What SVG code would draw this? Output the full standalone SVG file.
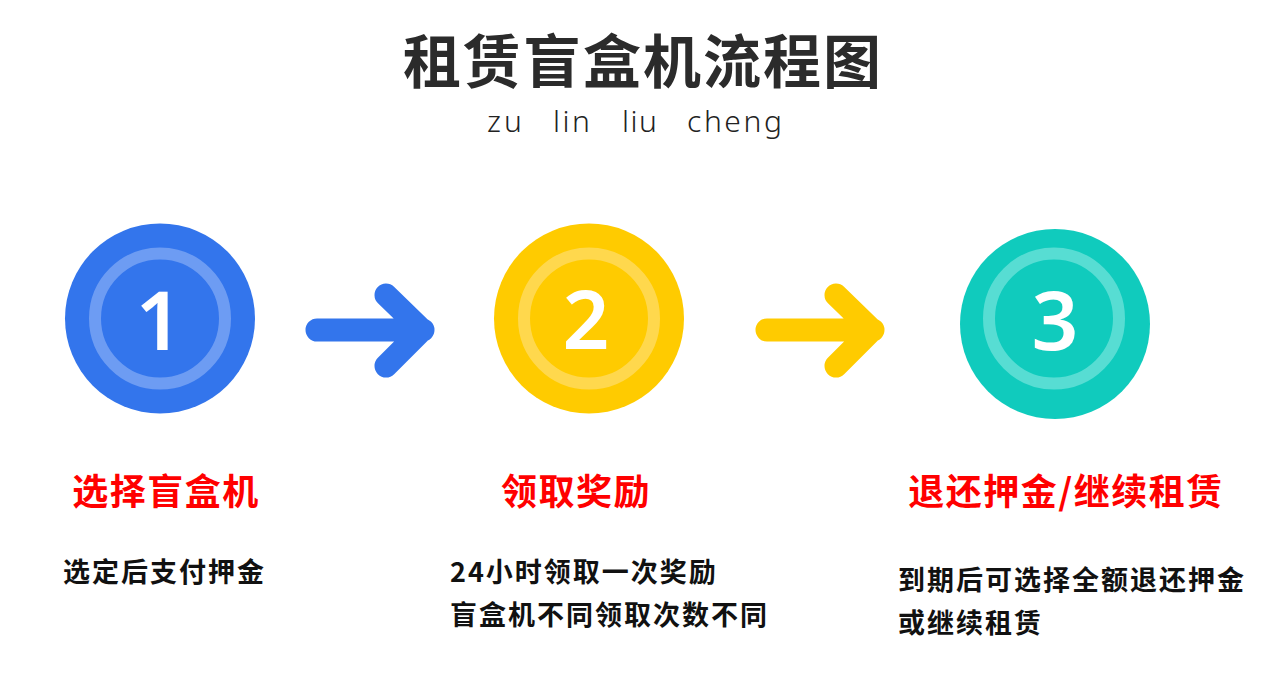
<svg xmlns="http://www.w3.org/2000/svg" width="1263" height="694" viewBox="0 0 1263 694">
<style>
.title{font-family:"Noto Sans CJK SC","Noto Sans",sans-serif;font-weight:700;font-size:58px;fill:#2b2b2b;letter-spacing:2px}
.sub{font-family:"Noto Sans","Open Sans",sans-serif;font-weight:300;font-size:30px;fill:#222}
.digit{font-family:"Noto Sans","Open Sans",sans-serif;font-weight:600;font-size:82px;fill:#fff;text-anchor:middle}
.lbl{font-family:"Noto Sans CJK SC",sans-serif;font-weight:700;font-size:36px;fill:#ff0000;letter-spacing:1.5px;text-anchor:middle}
.desc{font-family:"Noto Sans CJK SC",sans-serif;font-weight:700;font-size:27px;fill:#111;letter-spacing:2px}
.arrow{fill:none;stroke-width:23;stroke-linecap:round;stroke-linejoin:round}
</style>
<rect width="1263" height="694" fill="#fff"/>
<g id="title">
<text class="title" x="643" y="83" text-anchor="middle">租赁盲盒机流程图</text>
<text class="sub" y="132"><tspan x="487" textLength="35">zu</tspan><tspan x="553" textLength="37">lin</tspan><tspan x="622" textLength="35">liu</tspan><tspan x="687" textLength="95">cheng</tspan></text>
</g>
<g id="step1">
<circle cx="160" cy="318.5" r="95" fill="#3375ec"/>
<circle cx="160" cy="318.5" r="65" fill="none" stroke="#6d9cf3" stroke-width="12"/>
<text class="digit" x="159" y="350">1</text>
<text class="lbl" x="166" y="505">选择盲盒机</text>
<text class="desc" x="63" y="582">选定后支付押金</text>
</g>
<g id="step2">
<circle cx="589" cy="318.5" r="95" fill="#ffcb00"/>
<circle cx="589" cy="318.5" r="65" fill="none" stroke="#ffd84d" stroke-width="12"/>
<text class="digit" x="586" y="349">2</text>
<text class="lbl" x="576" y="505">领取奖励</text>
<text class="desc" x="450" y="582">24小时领取一次奖励</text>
<text class="desc" x="450" y="625">盲盒机不同领取次数不同</text>
</g>
<g id="step3">
<circle cx="1055" cy="324" r="95" fill="#10cbbd"/>
<circle cx="1054" cy="318.5" r="65" fill="none" stroke="#57ddd3" stroke-width="12"/>
<text class="digit" x="1055" y="350">3</text>
<text class="lbl" x="1066" y="505">退还押金/继续租赁</text>
<text class="desc" x="898" y="590">到期后可选择全额退还押金</text>
<text class="desc" x="898" y="633">或继续租赁</text>
</g>
<g id="connectors">
<path class="arrow" stroke="#3375ec" d="M317 330 H423 M386 295 L422 330 L386 366"/>
<path class="arrow" stroke="#ffcb00" d="M767 330 H873 M836 295 L872 330 L836 366"/>
</g>
</svg>
